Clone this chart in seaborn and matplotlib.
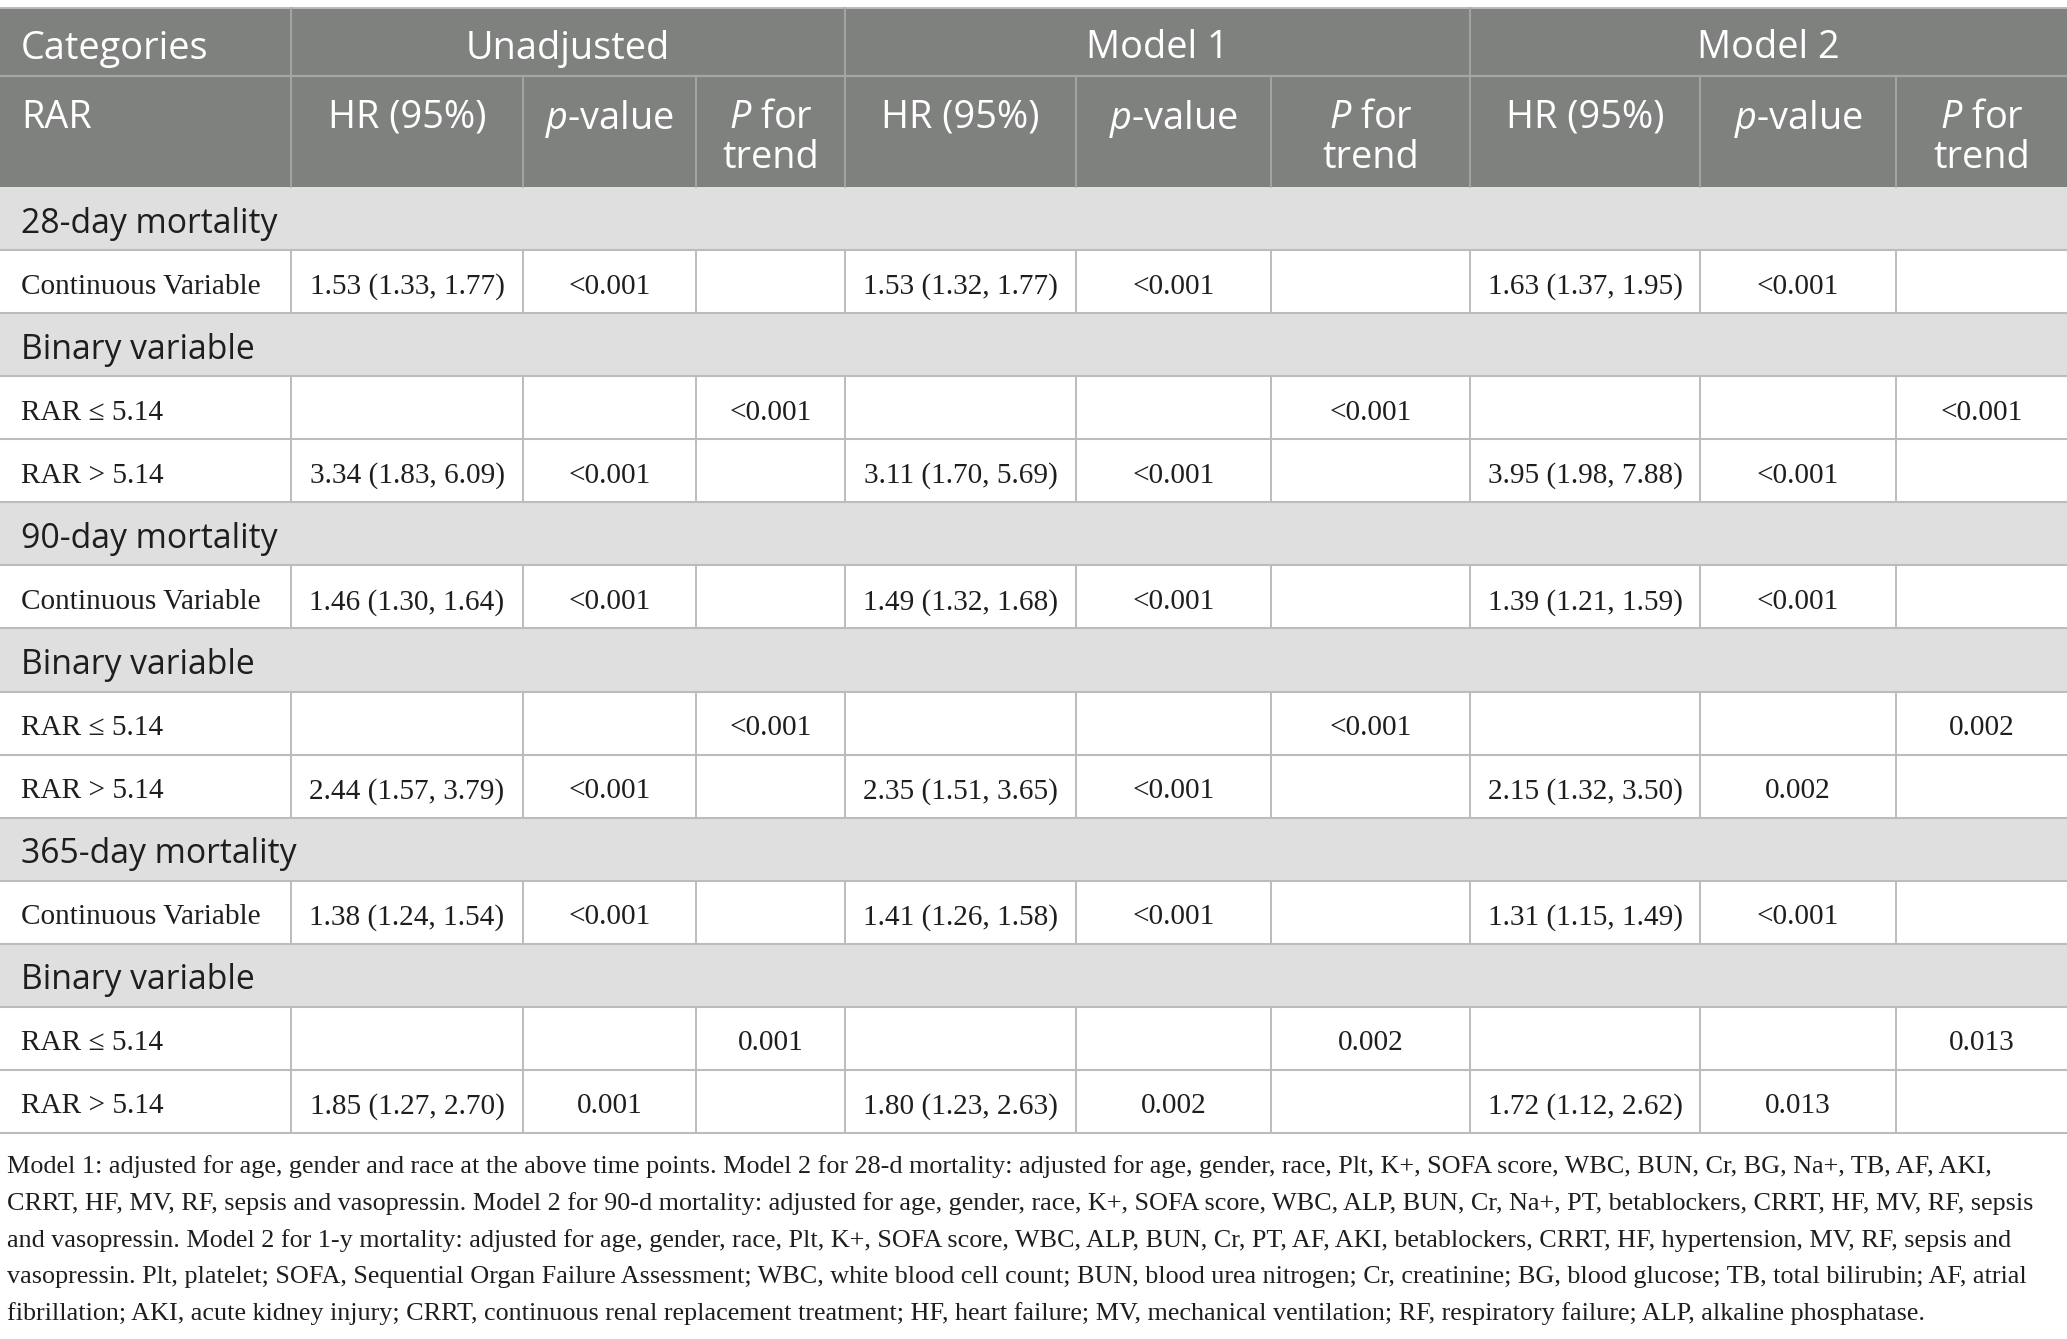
import numpy as np
import pandas as pd
import matplotlib
matplotlib.use("Agg")
import matplotlib.pyplot as plt
from matplotlib.colors import ListedColormap
from matplotlib.patches import Rectangle
import seaborn as sns

# ---------------- data ----------------
row_labels = ["28-day mortality", "Continuous Variable", "Binary variable", "RAR \u2264 5.14", "RAR > 5.14",
              "90-day mortality", "Continuous Variable", "Binary variable", "RAR \u2264 5.14", "RAR > 5.14",
              "365-day mortality", "Continuous Variable", "Binary variable", "RAR \u2264 5.14", "RAR > 5.14"]
row_is_section = [1, 0, 1, 0, 0, 1, 0, 1, 0, 0, 1, 0, 1, 0, 0]

unadj_hr = ["", "1.53 (1.33, 1.77)", "", "", "3.34 (1.83, 6.09)", "", "1.46 (1.30, 1.64)", "", "", "2.44 (1.57, 3.79)",
            "", "1.38 (1.24, 1.54)", "", "", "1.85 (1.27, 2.70)"]
unadj_p = ["", "<0.001", "", "", "<0.001", "", "<0.001", "", "", "<0.001", "", "<0.001", "", "", "0.001"]
unadj_trend = ["", "", "", "<0.001", "", "", "", "", "<0.001", "", "", "", "", "0.001", ""]
m1_hr = ["", "1.53 (1.32, 1.77)", "", "", "3.11 (1.70, 5.69)", "", "1.49 (1.32, 1.68)", "", "", "2.35 (1.51, 3.65)",
         "", "1.41 (1.26, 1.58)", "", "", "1.80 (1.23, 2.63)"]
m1_p = ["", "<0.001", "", "", "<0.001", "", "<0.001", "", "", "<0.001", "", "<0.001", "", "", "0.002"]
m1_trend = ["", "", "", "<0.001", "", "", "", "", "<0.001", "", "", "", "", "0.002", ""]
m2_hr = ["", "1.63 (1.37, 1.95)", "", "", "3.95 (1.98, 7.88)", "", "1.39 (1.21, 1.59)", "", "", "2.15 (1.32, 3.50)",
         "", "1.31 (1.15, 1.49)", "", "", "1.72 (1.12, 2.62)"]
m2_p = ["", "<0.001", "", "", "<0.001", "", "<0.001", "", "", "0.002", "", "<0.001", "", "", "0.013"]
m2_trend = ["", "", "", "<0.001", "", "", "", "", "0.002", "", "", "", "", "0.013", ""]

group_labels = ["Unadjusted", "Model 1", "Model 2"]
corner_top = "Categories"
corner_sub = "RAR"
sub_labels = ["HR (95%)", r"$\mathit{p}$-value", r"$\mathit{P}$ for"]
sub_label_second = ["", "", "trend"]

footnote_lines = [
    "Model 1: adjusted for age, gender and race at the above time points. Model 2 for 28-d mortality: adjusted for age, gender, race, Plt, K+, SOFA score, WBC, BUN, Cr, BG, Na+, TB, AF, AKI,",
    "CRRT, HF, MV, RF, sepsis and vasopressin. Model 2 for 90-d mortality: adjusted for age, gender, race, K+, SOFA score, WBC, ALP, BUN, Cr, Na+, PT, betablockers, CRRT, HF, MV, RF, sepsis",
    "and vasopressin. Model 2 for 1-y mortality: adjusted for age, gender, race, Plt, K+, SOFA score, WBC, ALP, BUN, Cr, PT, AF, AKI, betablockers, CRRT, HF, hypertension, MV, RF, sepsis and",
    "vasopressin. Plt, platelet; SOFA, Sequential Organ Failure Assessment; WBC, white blood cell count; BUN, blood urea nitrogen; Cr, creatinine; BG, blood glucose; TB, total bilirubin; AF, atrial",
    "fibrillation; AKI, acute kidney injury; CRRT, continuous renal replacement treatment; HF, heart failure; MV, mechanical ventilation; RF, respiratory failure; ALP, alkaline phosphatase.",
]

value_columns = [unadj_hr, unadj_p, unadj_trend, m1_hr, m1_p, m1_trend, m2_hr, m2_p, m2_trend]

# ---------------- style ----------------
sns.set_style("white")
SANS = ["Open Sans", "DejaVu Sans"]
SERIF = ["Liberation Serif", "DejaVu Serif"]
plt.rcParams["font.family"] = SANS
plt.rcParams["mathtext.fontset"] = "custom"
plt.rcParams["mathtext.rm"] = "Open Sans"
plt.rcParams["mathtext.it"] = "Open Sans:italic"

W, H = 2067, 1339
fig = plt.figure(figsize=(W / 100, H / 100), dpi=100)
fig.patch.set_facecolor("white")

# layout (pixels)
col_edges = [0, 291, 523, 696, 845, 1076, 1271, 1470, 1700, 1896, 2067]
group_edges = [291, 845, 1470, 2067]
top = 8
h1 = 76
h2 = 187
body_bottom = 1133
n_rows = len(row_labels)
row_h = (body_bottom - h2) / n_rows

HEADER_BG = "#7f817f"
SECTION_BG = "#e0dfe0"
LINE = "#bcbcbc"
HLINE = "#a4a6a4"
TXT = "#1e1e1e"

# background of body rows via seaborn heatmap
ax_bg = fig.add_axes([0, 1 - body_bottom / H, 1, (body_bottom - h2) / H])
bg = pd.DataFrame({"kind": row_is_section}, index=range(n_rows))
sns.heatmap(bg, cmap=ListedColormap(["white", SECTION_BG]), vmin=0, vmax=1, cbar=False,
            xticklabels=False, yticklabels=False, ax=ax_bg)
ax_bg.set_axis_off()

ax = fig.add_axes([0, 0, 1, 1])
ax.set_xlim(0, W)
ax.set_ylim(H, 0)
ax.set_axis_off()
ax.patch.set_alpha(0)

renderer = fig.canvas.get_renderer()


def fit(s, target, family, **kw):
    t = ax.text(0, 0, s, fontsize=20, family=family, **kw)
    w = t.get_window_extent(renderer).width
    t.remove()
    return 20 * target / w


fs_sec = fit("28-day mortality", 256, SANS)
fs_head = fit("Categories", 187, SANS)
fs_serif = fit("Continuous Variable", 239, SERIF)
fs_foot = fit(footnote_lines[1], 2032, SERIF)

# header background
ax.add_patch(Rectangle((0, top), W, h2 - top, facecolor=HEADER_BG, edgecolor="none", zorder=1))
ax.plot([0, W], [top, top], color="#b9bbb9", lw=1.4, zorder=2)
ax.plot([0, W], [h1, h1], color=HLINE, lw=1.6, zorder=2)
for x in group_edges[:-1]:
    ax.plot([x, x], [top, h1], color=HLINE, lw=1.4, zorder=2)
for x in col_edges[1:-1]:
    ax.plot([x, x], [h1, h2], color=HLINE, lw=1.4, zorder=2)

# header texts
xl = 21
yh1 = 44
ax.text(xl, yh1, corner_top, color="white", fontsize=fs_head, family=SANS, ha="left", va="center_baseline", zorder=3)
for i, g in enumerate(group_labels):
    ax.text((group_edges[i] + group_edges[i + 1]) / 2, yh1, g, color="white", fontsize=fs_head, family=SANS,
            ha="center", va="center_baseline", zorder=3)
y2a, y2b = 113, 154
ax.text(xl, y2a, corner_sub, color="white", fontsize=fs_head, family=SANS, ha="left", va="center_baseline", zorder=3)
for c in range(9):
    cx = (col_edges[c + 1] + col_edges[c + 2]) / 2
    k = c % 3
    ax.text(cx, y2a, sub_labels[k], color="white", fontsize=fs_head, family=SANS, ha="center",
            va="center_baseline", zorder=3)
    if sub_label_second[k]:
        ax.text(cx, y2b, sub_label_second[k], color="white", fontsize=fs_head, family=SANS, ha="center",
                va="center_baseline", zorder=3)

# body lines and texts
for i in range(n_rows):
    y0 = h2 + i * row_h
    y1 = y0 + row_h
    yc = (y0 + y1) / 2
    ax.plot([0, W], [y1, y1], color=LINE, lw=1.5, zorder=2)
    if row_is_section[i]:
        ax.text(xl, yc + 1, row_labels[i], color=TXT, fontsize=fs_sec, family=SANS, ha="left",
                va="center_baseline", zorder=3)
    else:
        for x in col_edges[1:-1]:
            ax.plot([x, x], [y0, y1], color=LINE, lw=1.4, zorder=2)
        ax.text(xl, yc + 2, row_labels[i], color=TXT, fontsize=fs_serif, family=SERIF, ha="left",
                va="center_baseline", zorder=3)
        for c, vals in enumerate(value_columns):
            if vals[i]:
                cx = (col_edges[c + 1] + col_edges[c + 2]) / 2
                ax.text(cx, yc + 2, vals[i], color=TXT, fontsize=fs_serif, family=SERIF, ha="center",
                        va="center_baseline", zorder=3)

# footnote
for j, line in enumerate(footnote_lines):
    ax.text(7, 1164 + 36.8 * j, line, color=TXT, fontsize=fs_foot, family=SERIF, ha="left",
            va="center_baseline", zorder=3)

fig.savefig("out.png", dpi=100, facecolor="white")
